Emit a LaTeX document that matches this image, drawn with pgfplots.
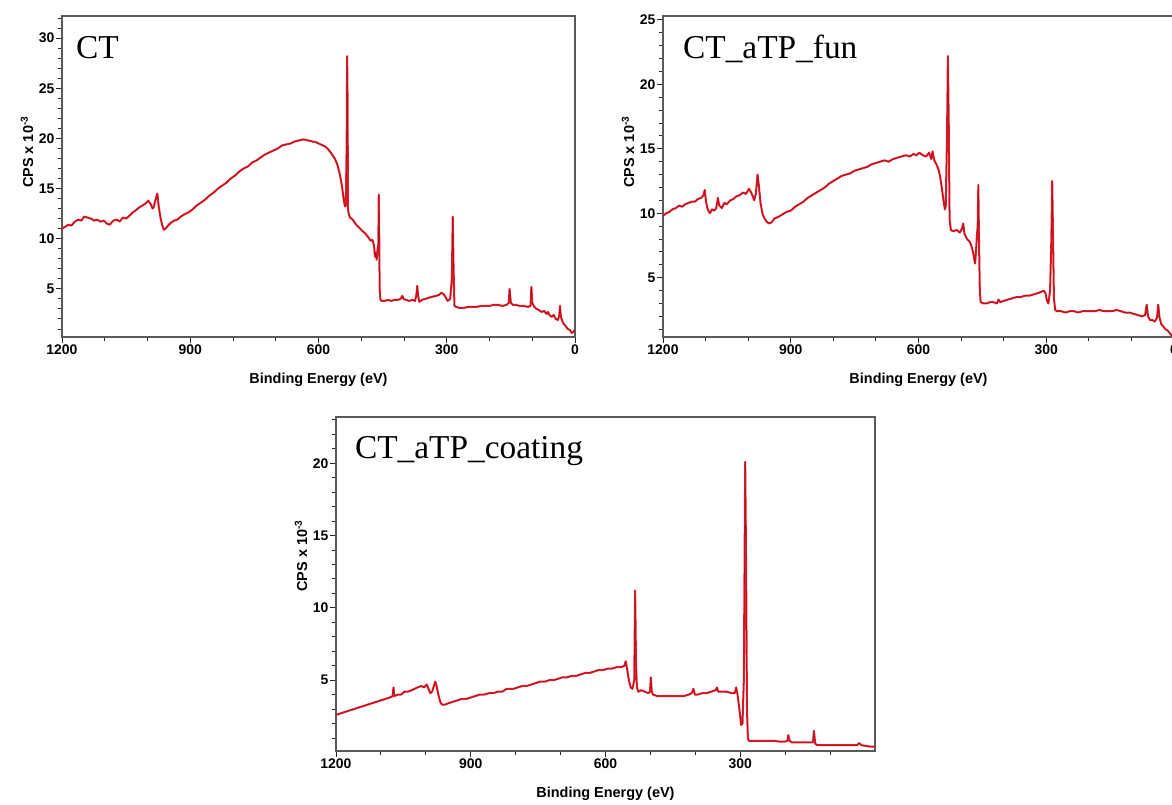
\documentclass[border=0pt]{standalone}
\usepackage{fontspec}
\setmainfont{Liberation Sans}
\newfontfamily\serifT{Liberation Serif}
\usepackage{pgfplots}
\pgfplotsset{compat=1.18}
\definecolor{spec}{RGB}{232,28,40}
\definecolor{speccore}{RGB}{170,20,30}
\definecolor{axgray}{RGB}{90,90,90}
\pgfplotsset{xps/.style={
  scale only axis,
  x dir=reverse,
  xmin=0, xmax=1200,
  minor xtick={100,200,...,1100},
  tick pos=left,
  tick align=outside,
  major tick length=6bp,
  minor tick length=4bp,
  axis line style={axgray, line width=1.6bp},
  every tick/.style={black!85, line width=0.9bp},
  /pgf/number format/assume math mode=true,
  /pgf/number format/1000 sep={},
  tick label style={font=\fontsize{14}{16}\selectfont\bfseries},
  xticklabel style={inner sep=2bp},
  yticklabel style={inner sep=1.5bp},
  xlabel={Binding Energy (eV)},
  ylabel={CPS x 10\textsuperscript{-3}},
  xlabel style={font=\fontsize{14.5}{17}\selectfont\bfseries, at={(rel axis cs:0.5,0)}, anchor=center, yshift=-43bp},
  ylabel style={font=\fontsize{14.5}{17}\selectfont\bfseries, anchor=center, yshift=35bp},
  clip=true,
}}
\pgfplotsset{spectrum/.style={draw=spec, line width=2bp, line join=round, no marks, postaction={draw=speccore, line width=0.6bp}}}
\begin{document}
\begin{tikzpicture}
\useasboundingbox (0,0) rectangle (1172bp,805bp);
% ---------------- Panel 1: CT
\begin{axis}[xps, at={(62bp,789bp)}, anchor=north west, width=513bp, height=321bp,
  ymin=0.2, ymax=32.2, ytick={5,10,...,30}, minor ytick={1,2,...,32},
  xtick={0,300,...,1200},
  ylabel style={at={(rel axis cs:0,0.576)}}]
\addplot[spectrum] coordinates {
(1200,11.0)(1192,11.2)(1185,11.4)(1178,11.3)(1170,11.7)(1162,11.9)(1155,11.8)(1148,12.2)(1140,12.1)(1132,12.0)
(1125,11.8)(1118,11.9)(1110,11.7)(1102,11.8)(1095,11.5)(1088,11.4)(1080,11.8)(1072,11.9)(1065,11.7)(1058,12.1)
(1050,12.0)(1042,12.3)(1035,12.6)(1028,12.8)(1020,13.1)(1012,13.3)(1005,13.5)(998,13.8)(992,13.4)(988,13.0)
(985,13.2)(980,14.1)(977,14.5)(974,13.3)(970,12.2)(966,11.4)(962,10.9)(958,11.0)(952,11.3)(945,11.6)
(938,11.8)(930,11.9)(922,12.2)(915,12.4)(905,12.6)(895,12.9)(885,13.3)(875,13.6)(865,13.9)(855,14.3)
(845,14.6)(835,15.0)(825,15.3)(815,15.6)(805,16.0)(795,16.3)(785,16.7)(775,17.0)(765,17.2)(755,17.6)
(745,17.8)(735,18.1)(725,18.4)(715,18.6)(705,18.8)(695,19.0)(685,19.3)(675,19.4)(665,19.5)(655,19.7)
(645,19.8)(635,19.9)(625,19.8)(615,19.7)(605,19.6)(595,19.4)(585,19.2)(577,18.9)(570,18.5)(562,18.0)
(556,17.4)(550,16.4)(545,15.2)(541,13.9)(538,13.2)(536,13.4)(534,20.0)(533,28.2)(532,24.0)(531,13.0)
(529,12.4)(526,12.1)(520,11.9)(512,11.4)(505,11.1)(498,10.8)(490,10.5)(483,10.1)(478,9.8)(474,9.9)
(470,9.3)(468,8.2)(466,8.6)(464,7.9)(462,8.9)(460,9.5)(459,14.4)(458,11.0)(457,5.0)(455,3.9)
(452,3.8)(445,3.8)(438,3.9)(430,3.8)(422,3.9)(415,3.9)(408,4.0)(404,4.3)(401,4.0)(395,3.9)
(388,3.8)(380,3.9)(374,3.8)(371,4.4)(369,5.3)(367,4.3)(364,3.7)(358,3.9)(350,4.0)(343,4.1)
(335,4.2)(325,4.3)(318,4.4)(313,4.6)(308,4.5)(303,4.2)(298,3.8)(292,4.0)(288,6.0)(286,12.2)
(284,7.0)(282,3.3)(278,3.2)(270,3.1)(260,3.1)(250,3.2)(240,3.2)(230,3.2)(220,3.3)(210,3.3)
(200,3.3)(190,3.4)(180,3.4)(170,3.3)(160,3.4)(155,3.6)(153,5.0)(150,3.6)(145,3.4)(138,3.4)
(130,3.3)(120,3.3)(110,3.2)(104,3.3)(102,5.2)(100,3.6)(95,3.2)(90,3.0)(85,2.9)(78,2.7)
(72,2.8)(67,2.5)(63,2.7)(60,2.4)(55,2.2)(50,2.4)(45,2.0)(40,1.9)(37,2.3)(35,3.3)
(33,2.2)(28,1.6)(22,1.3)(17,1.0)(12,0.9)(8,0.6)(4,0.7)(0,0.9)
};
\node[anchor=base west, font=\serifT\fontsize{33.5}{40}\selectfont, inner sep=0pt] at (rel axis cs:0.027,0.869) {CT};
\end{axis}
% ---------------- Panel 2: CT_aTP_fun
\begin{axis}[xps, at={(663bp,789bp)}, anchor=north west, width=511bp, height=321bp,
  ymin=0.4, ymax=25.3, ytick={5,10,...,25}, minor ytick={1,2,...,25},
  xtick={0,300,...,1200},
  ylabel style={at={(rel axis cs:0,0.576)}}]
\addplot[spectrum] coordinates {
(1200,9.8)(1192,10.0)(1185,10.1)(1178,10.3)(1170,10.4)(1162,10.6)(1155,10.5)(1148,10.7)(1140,10.8)(1132,10.9)
(1125,10.9)(1118,11.1)(1110,11.2)(1105,11.4)(1102,11.8)(1099,10.9)(1095,10.3)(1090,10.0)(1085,10.3)(1080,10.2)
(1075,10.4)(1071,11.2)(1068,10.6)(1062,10.4)(1056,10.8)(1050,10.7)(1042,11.0)(1035,11.1)(1028,11.3)(1020,11.4)
(1012,11.6)(1005,11.5)(998,11.9)(993,11.6)(989,11.3)(986,11.0)(982,11.5)(978,13.0)(975,12.2)(971,10.8)
(966,9.9)(960,9.5)(955,9.3)(950,9.2)(945,9.3)(938,9.6)(930,9.7)(920,9.9)(910,10.1)(900,10.2)
(890,10.5)(880,10.7)(870,10.9)(860,11.2)(850,11.4)(840,11.6)(830,11.8)(820,12.0)(810,12.3)(800,12.5)
(790,12.7)(780,12.9)(770,13.0)(760,13.1)(750,13.3)(740,13.4)(730,13.5)(720,13.6)(710,13.8)(700,13.9)
(690,14.0)(680,14.1)(670,14.0)(660,14.2)(650,14.3)(640,14.4)(630,14.5)(620,14.4)(612,14.6)(605,14.5)
(598,14.7)(590,14.5)(582,14.4)(575,14.7)(570,14.2)(567,14.8)(563,14.1)(558,13.8)(553,13.4)(549,12.8)
(545,11.9)(541,10.9)(538,10.3)(536,10.6)(533,16.0)(531,22.2)(529,17.0)(527,9.5)(524,8.7)(518,8.6)
(510,8.7)(503,8.5)(498,8.8)(495,9.2)(492,8.4)(486,8.0)(480,7.8)(476,7.5)(472,7.0)(469,6.4)
(467,6.1)(465,7.0)(463,8.2)(461,9.0)(459.5,12.2)(458,8.0)(456,4.0)(454,3.1)(448,3.0)(440,3.0)
(432,3.1)(424,3.1)(416,3.0)(412,3.3)(408,3.1)(400,3.2)(390,3.3)(380,3.4)(370,3.5)(360,3.5)
(350,3.6)(340,3.6)(330,3.7)(320,3.8)(312,3.9)(306,4.0)(302,3.8)(298,3.2)(295,3.0)(291,4.0)
(288,8.0)(286,12.5)(284,8.0)(282,3.4)(279,2.5)(275,2.4)(265,2.4)(255,2.3)(245,2.4)(235,2.4)
(225,2.3)(215,2.4)(205,2.4)(195,2.4)(185,2.4)(175,2.5)(165,2.4)(155,2.4)(145,2.4)(135,2.5)
(125,2.4)(115,2.3)(105,2.3)(95,2.2)(85,2.1)(75,2.0)(68,2.1)(64,2.9)(61,2.0)(56,1.7)
(50,1.7)(45,1.6)(40,1.9)(37,2.9)(34,1.9)(30,1.4)(25,1.2)(20,1.0)(15,0.9)(10,0.7)
(5,0.5)(0,0.4)
};
\node[anchor=base west, font=\serifT\fontsize{33.5}{40}\selectfont, inner sep=0pt] at (rel axis cs:0.039,0.869) {CT\_aTP\_fun};
\end{axis}
% ---------------- Panel 3: CT_aTP_coating
\begin{axis}[xps, at={(336bp,388bp)}, anchor=north west, width=539bp, height=334bp,
  ymin=0.1, ymax=23.2, ytick={5,10,...,20}, minor ytick={1,2,...,23},
  xtick={300,600,900,1200},
  ylabel style={at={(rel axis cs:0,0.584)}}]
\addplot[spectrum] coordinates {
(1200,2.6)(1190,2.7)(1180,2.8)(1170,2.9)(1160,3.0)(1150,3.1)(1140,3.2)(1130,3.3)(1120,3.4)(1110,3.5)
(1100,3.6)(1090,3.7)(1080,3.8)(1074,3.9)(1072,4.5)(1070,3.9)(1062,4.0)(1055,4.0)(1048,4.2)(1040,4.2)
(1032,4.3)(1025,4.4)(1018,4.5)(1010,4.6)(1004,4.5)(998,4.7)(994,4.4)(990,4.1)(986,4.2)(982,4.6)
(979,4.9)(976,4.6)(972,4.0)(968,3.5)(964,3.3)(958,3.3)(950,3.4)(940,3.5)(930,3.6)(920,3.7)
(910,3.7)(900,3.8)(890,3.9)(880,4.0)(870,4.0)(860,4.1)(850,4.1)(840,4.2)(830,4.2)(820,4.4)
(812,4.4)(805,4.4)(795,4.5)(785,4.6)(775,4.6)(765,4.7)(755,4.8)(745,4.9)(735,4.9)(725,5.0)
(715,5.0)(705,5.1)(695,5.2)(685,5.2)(675,5.3)(665,5.3)(655,5.4)(645,5.5)(635,5.5)(625,5.6)
(615,5.7)(605,5.7)(595,5.8)(585,5.8)(575,5.9)(565,5.9)(558,6.0)(555,6.3)(552,5.8)(548,5.0)
(544,4.5)(540,4.4)(536,5.0)(534,11.2)(532,6.0)(530,4.5)(527,4.2)(520,4.3)(512,4.2)(505,4.1)
(501,4.2)(499,5.2)(497,4.2)(494,4.0)(485,3.9)(475,3.9)(465,3.9)(455,3.9)(445,3.9)(435,3.9)
(425,3.9)(415,4.0)(408,4.1)(404,4.4)(401,4.0)(395,4.0)(385,4.1)(375,4.1)(365,4.2)(355,4.3)
(352,4.5)(349,4.2)(340,4.2)(330,4.2)(320,4.1)(312,4.1)(309,4.5)(306,4.0)(302,3.0)(298,1.9)
(295,2.0)(292,5.0)(289,20.1)(287,13.0)(285,3.0)(283,1.0)(281,0.8)(270,0.8)(255,0.8)(240,0.8)
(225,0.8)(212,0.75)(200,0.75)(195,0.8)(193,1.2)(190,0.8)(185,0.7)(175,0.7)(165,0.7)(155,0.7)
(145,0.7)(138,0.7)(136,1.5)(133,0.6)(128,0.5)(115,0.5)(100,0.5)(85,0.5)(70,0.5)(55,0.5)
(40,0.5)(35,0.65)(30,0.5)(20,0.45)(10,0.4)(0,0.4)
};
\node[anchor=base west, font=\serifT\fontsize{33.5}{40}\selectfont, inner sep=0pt] at (rel axis cs:0.035,0.877) {CT\_aTP\_coating};
\end{axis}
\end{tikzpicture}
\end{document}
